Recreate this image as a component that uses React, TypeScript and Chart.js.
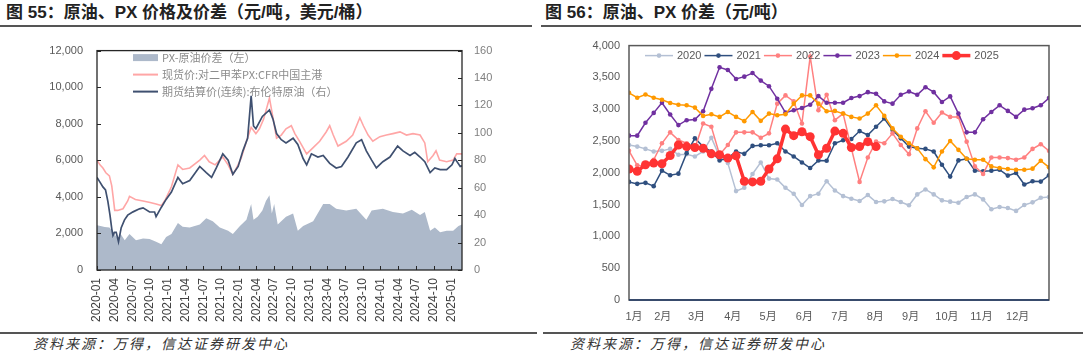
import React, { useEffect, useRef } from "react";
import { Chart, registerables } from "chart.js";
Chart.register(...registerables);

const FONT = '"Liberation Sans", "Noto Sans CJK SC", sans-serif';
const CJK = '"Noto Sans CJK SC", "Liberation Sans", sans-serif';

// ---------- Figure 55 data (x = months since 2020-01) ----------
const quarterLabels = [
  "2020-01", "2020-04", "2020-07", "2020-10", "2021-01", "2021-04", "2021-07",
  "2021-10", "2022-01", "2022-04", "2022-07", "2022-10", "2023-01", "2023-04",
  "2023-07", "2023-10", "2024-01", "2024-04", "2024-07", "2024-10", "2025-01",
];
const spreadT = [0, 0.6, 1.3, 2.1, 2.95, 3.5, 4.0, 4.7, 5.5, 6.6, 7.8, 8.9, 10, 10.9, 11.7, 12.6, 13.7, 14.5, 15.7, 17.4, 18.5, 19.6, 20.8, 22.2, 23, 24.2, 25.3, 26.1, 26.5, 27.2, 28, 28.6, 29.2, 29.6, 30, 30.6, 32, 33.2, 34, 34.9, 36.6, 38.3, 39.4, 40.5, 42.2, 43.9, 45.6, 46.5, 48.4, 50.1, 51.8, 53.3, 54.7, 55.5, 56.4, 57.2, 58.1, 59.2, 60.3, 61.2, 61.8];
const spreadV = [2450, 2400, 2350, 2320, 1975, 1720, 1975, 1630, 1975, 1630, 1720, 1700, 1545, 1410, 1800, 1975, 2575, 2370, 2320, 2490, 2830, 2660, 2320, 2145, 1975, 2400, 2745, 3605, 2750, 2915, 3260, 3775, 4085, 3090, 3605, 2490, 2915, 3090, 2145, 2400, 2660, 3605, 3605, 3350, 3260, 3350, 2745, 3260, 3350, 3175, 3090, 3295, 3005, 3175, 2145, 2320, 2060, 2145, 2145, 2400, 2490];
const pxT = [0, 0.5, 1.0, 1.5, 2.1, 2.5, 2.75, 3.0, 3.5, 4.4, 5.2, 5.5, 6.5, 7.8, 9, 10, 10.9, 11.6, 12.6, 13.7, 14.5, 15.7, 17.4, 18.2, 19, 20, 21.3, 22.2, 23, 23.5, 24.4, 25.3, 26.1, 26.9, 27.5, 28.2, 29.2, 29.8, 30.4, 31.2, 32, 32.9, 33.5, 34.3, 35.5, 36.6, 37.7, 38.8, 39.4, 40, 40.8, 42.2, 43.3, 44.5, 45.1, 45.9, 46.7, 47.9, 49, 50.1, 51.3, 52.4, 53.5, 54.7, 55.5, 56, 56.9, 57.4, 58, 59.2, 60.3, 60.9, 61.8];
const pxV = [6010, 5750, 5580, 5320, 5150, 4600, 3950, 3260, 3260, 3350, 3775, 4030, 3860, 3775, 3690, 3605, 3520, 3860, 4550, 5750, 5500, 5580, 6010, 6265, 5920, 5750, 6180, 5750, 5235, 5500, 6095, 7040, 7800, 7460, 7720, 8240, 9400, 8325, 7210, 7380, 7720, 7890, 7460, 7040, 6350, 6695, 7040, 7550, 7890, 7380, 6780, 7040, 7380, 8325, 7890, 7380, 7040, 7295, 7380, 7460, 7555, 7380, 7460, 7380, 6950, 5920, 6265, 6520, 6010, 5920, 6010, 6350, 6350];
const brentT = [0, 0.5, 1.0, 1.44, 1.84, 2.2, 2.5, 2.7, 2.95, 3.25, 3.64, 4.1, 4.66, 5.2, 6.1, 7.2, 7.8, 8.9, 9.75, 10.0, 10.9, 11.7, 12.6, 13.7, 14.5, 15.7, 17.4, 18.5, 19.4, 20.2, 21.3, 22.2, 23, 23.9, 24.7, 25.5, 26.1, 26.5, 26.9, 28, 29.2, 29.8, 30.4, 31.2, 32, 33.2, 34, 34.9, 35.5, 36.3, 37.4, 38.3, 39.4, 40.5, 41.4, 42.5, 43.9, 44.8, 45.6, 46.5, 47.3, 48.4, 49.6, 50.9, 51.8, 53, 53.8, 54.7, 55.5, 56.4, 57.2, 58.1, 59.2, 60.1, 60.6, 61.5, 61.8];
const brentV = [67.5, 64.1, 60.6, 58.4, 50, 40, 30, 25.2, 27.5, 27.5, 20.6, 30.9, 36.6, 40.0, 42.4, 44.6, 45.3, 42.3, 42.3, 38.9, 45.8, 51.5, 56.8, 67.5, 62.9, 65.2, 75.5, 71, 67.5, 74.4, 84.7, 80.1, 69.8, 75.5, 86.9, 96, 127, 105, 103, 112, 116.7, 110, 99.5, 95, 92.7, 96.1, 91.6, 81.3, 76.7, 84.7, 82.4, 83.5, 77.8, 74.4, 75.5, 82.4, 92.7, 95, 86.9, 80.1, 74.4, 79, 82.4, 90.4, 86.9, 83.5, 85.8, 82.4, 79, 71, 74.4, 73.2, 73.2, 76.7, 81.3, 75.5, 76];

// ---------- Figure 56 data (weekly, x = week index) ----------
const monthLabels = ["1月", "2月", "3月", "4月", "5月", "6月", "7月", "8月", "9月", "10月", "11月", "12月"];
const monthTickWeeks = [0.6, 4.1, 8.2, 12.6, 16.9, 21.3, 25.6, 29.9, 34.2, 38.6, 42.8, 47.2];
const yearLabels = ["2020", "2021", "2022", "2023", "2024", "2025"];
const s2020 = [2438, 2412, 2376, 2335, 2345, 2376, 2283, 2293, 2257, 2335, 2552, 2257, 2153, 1712, 1764, 1982, 2163, 1909, 1894, 1764, 1671, 1494, 1634, 1671, 1868, 1722, 1634, 1593, 1556, 1650, 1541, 1551, 1588, 1541, 1489, 1660, 1738, 1660, 1567, 1546, 1530, 1619, 1660, 1582, 1427, 1463, 1447, 1401, 1494, 1535, 1608, 1619];
const s2021 = [1857, 1826, 1842, 1790, 2034, 1961, 1987, 2309, 2542, 2412, 2335, 2195, 2231, 2335, 2298, 2423, 2433, 2433, 2464, 2335, 2257, 2163, 2075, 2195, 2189, 2464, 2511, 2532, 2656, 2594, 2724, 2853, 2672, 2542, 2412, 2386, 2376, 2335, 2127, 1940, 2195, 2220, 2034, 2023, 2034, 2049, 1956, 1997, 1816, 1868, 1862, 1961];
const s2022 = [2345, 2117, 2101, 2205, 2464, 2636, 2516, 2464, 2386, 2776, 2724, 2283, 2438, 2636, 2636, 2636, 2552, 2620, 3087, 3217, 3123, 2776, 3829, 2983, 3227, 2827, 2931, 2386, 1857, 2241, 2490, 2464, 2620, 2438, 2293, 2698, 2968, 2786, 2947, 2879, 2879, 2490, 2101, 1982, 2241, 2241, 2231, 2205, 2241, 2376, 2449, 2345];
const s2023 = [2584, 2584, 2786, 2942, 3102, 2916, 2750, 2827, 2838, 2968, 3320, 3658, 3616, 3476, 3512, 3569, 3450, 3362, 3165, 2947, 2983, 3019, 3071, 3206, 3102, 3102, 3102, 3175, 3206, 3268, 3243, 3123, 3087, 3227, 3279, 3227, 3346, 3268, 3113, 3201, 2931, 2636, 2636, 2843, 2957, 3061, 2973, 2879, 2993, 3014, 3061, 3175];
const s2024 = [3258, 3180, 3232, 3180, 3149, 3097, 3071, 3061, 3025, 2895, 2921, 2879, 2957, 2879, 2812, 2957, 2817, 2931, 2905, 2921, 3087, 3217, 3217, 3087, 2968, 2973, 2931, 2879, 2853, 2931, 3061, 2895, 2698, 2568, 2464, 2386, 2215, 2086, 2335, 2501, 2361, 2220, 2205, 2205, 2101, 2075, 2060, 2049, 2049, 2065, 2189, 2086];
const s2025 = [2060, 2023, 2127, 2153, 2143, 2272, 2438, 2412, 2397, 2386, 2298, 2283, 2231, 2267, 1868, 1857, 1868, 2060, 2220, 2687, 2584, 2646, 2568, 2283, 2386, 2656, 2620, 2397, 2412, 2490, 2412];
const yearColors = ["#b4c0d4", "#2f4f7f", "#ff8080", "#7030a0", "#ff9900", "#ff3333"];

const comma = (v: any) => Number(v).toLocaleString("en-US");

const framePlugin = {
  id: "frame",
  afterDatasetsDraw(chart: any, _a: any, opts: any) {
    if (!opts || !opts.color) return;
    const { ctx, chartArea: ca } = chart;
    ctx.save();
    ctx.strokeStyle = opts.color;
    ctx.lineWidth = opts.width;
    ctx.strokeRect(ca.left, ca.top, ca.right - ca.left, ca.bottom - ca.top);
    if (opts.bottomColor) {
      ctx.strokeStyle = opts.bottomColor;
      ctx.beginPath();
      ctx.moveTo(ca.left, ca.bottom);
      ctx.lineTo(ca.right, ca.bottom);
      ctx.stroke();
    }
    if (opts.ticks) {
      ctx.strokeStyle = opts.color;
      ctx.lineWidth = 1;
      const L = 4;
      const sx = chart.scales.x;
      sx.ticks.forEach((t: any) => {
        const p = Math.round(sx.getPixelForValue(t.value)) + 0.5;
        ctx.beginPath(); ctx.moveTo(p, ca.bottom); ctx.lineTo(p, ca.bottom - L); ctx.stroke();
      });
      const sy = chart.scales.y;
      sy.ticks.forEach((t: any) => {
        const p = Math.round(sy.getPixelForValue(t.value)) + 0.5;
        ctx.beginPath(); ctx.moveTo(ca.left, p); ctx.lineTo(ca.left + L, p); ctx.stroke();
      });
      const sy1 = chart.scales.y1;
      if (sy1) sy1.ticks.forEach((t: any) => {
        const p = Math.round(sy1.getPixelForValue(t.value)) + 0.5;
        ctx.beginPath(); ctx.moveTo(ca.right, p); ctx.lineTo(ca.right - L, p); ctx.stroke();
      });
    }
    ctx.restore();
  },
};

const legendPlugin = {
  id: "customLegend",
  afterDraw(chart: any, _a: any, opts: any) {
    if (!opts || !opts.mode) return;
    const { ctx, chartArea: ca } = chart;
    const dss = chart.data.datasets;
    ctx.save();
    ctx.font = `${opts.fontSize}px ${opts.family}`;
    ctx.textBaseline = "middle";
    ctx.textAlign = "left";
    if (opts.mode === "vertical") {
      opts.order.forEach((di: number, row: number) => {
        const ds = dss[di];
        const x = ca.left + opts.dx;
        const y = ca.top + opts.dy + row * opts.rowH;
        if (ds.fill) {
          ctx.fillStyle = ds.backgroundColor;
          ctx.fillRect(x, y - 3.5, opts.sample, 7);
        } else {
          ctx.strokeStyle = ds.borderColor;
          ctx.lineWidth = 2;
          ctx.beginPath(); ctx.moveTo(x, y); ctx.lineTo(x + opts.sample, y); ctx.stroke();
        }
        ctx.fillStyle = opts.color;
        ctx.fillText(ds.label, x + opts.sample + 4, y);
      });
    } else {
      let x = ca.left + opts.dx;
      const y = ca.top + opts.dy;
      dss.forEach((ds: any) => {
        ctx.strokeStyle = ds.borderColor;
        ctx.lineWidth = ds.borderWidth;
        ctx.beginPath(); ctx.moveTo(x, y); ctx.lineTo(x + opts.sample, y); ctx.stroke();
        ctx.fillStyle = ds.borderColor;
        ctx.beginPath(); ctx.arc(x + opts.sample / 2, y, ds.pointRadius, 0, Math.PI * 2); ctx.fill();
        ctx.fillStyle = opts.color;
        const tx = x + opts.sample + 4;
        ctx.fillText(ds.label, tx, y);
        x = tx + ctx.measureText(ds.label).width + 3;
      });
    }
    ctx.restore();
  },
};

Chart.register(framePlugin, legendPlugin);

function LeftChart() {
  const ref = useRef<HTMLCanvasElement>(null);
  useEffect(() => {
    const chart = new Chart(ref.current as HTMLCanvasElement, {
      type: "line",
      data: {
        datasets: [
          {
            label: "期货结算价(连续):布伦特原油（右）",
            data: brentT.map((t, i) => ({ x: t, y: brentV[i] })),
            yAxisID: "y1", borderColor: "#3f5070", borderWidth: 1.7,
            pointRadius: 0, order: 0, fill: false,
          },
          {
            label: "现货价:对二甲苯PX:CFR中国主港",
            data: pxT.map((t, i) => ({ x: t, y: pxV[i] })),
            yAxisID: "y", borderColor: "#ffa6a6", borderWidth: 1.6,
            pointRadius: 0, order: 1, fill: false,
          },
          {
            label: "PX-原油价差（左）",
            data: spreadT.map((t, i) => ({ x: t, y: spreadV[i] })),
            yAxisID: "y", borderColor: "#adb9ca", backgroundColor: "#adb9ca",
            borderWidth: 0, pointRadius: 0, order: 2, fill: "origin",
          },
        ],
      } as any,
      options: {
        animation: false,
        responsive: false,
        maintainAspectRatio: false,
        layout: { padding: { top: 7, left: 0, right: 0, bottom: 0 } },
        plugins: {
          legend: { display: false },
          tooltip: { enabled: false },
          frame: { color: "#262626", width: 1.3, ticks: true },
          customLegend: {
            mode: "vertical", order: [2, 1, 0], dx: 36, dy: 7, rowH: 17,
            sample: 25, fontSize: 11, family: CJK, color: "#8c8c8c",
          },
        } as any,
        scales: {
          x: {
            type: "linear", min: 0, max: 61.8,
            grid: { display: false, drawTicks: false }, border: { display: false },
            afterBuildTicks: (s: any) => { s.ticks = quarterLabels.map((_, i) => ({ value: i * 3 })); },
            afterFit: (s: any) => { s.height = 60; },
            ticks: {
              autoSkip: false, minRotation: 90, maxRotation: 90, padding: 8,
              color: "#404040", font: { size: 12, family: FONT },
              callback: (_v: any, i: number) => quarterLabels[i],
            },
          },
          y: {
            position: "left", min: 0, max: 12000,
            grid: { display: false, drawTicks: false }, border: { display: false },
            afterFit: (s: any) => { s.width = 57; },
            ticks: { stepSize: 2000, padding: 14, color: "#595959", font: { size: 11, family: FONT }, callback: comma },
          },
          y1: {
            position: "right", min: 0, max: 160,
            grid: { display: false, drawTicks: false }, border: { display: false },
            afterFit: (s: any) => { s.width = 38; },
            ticks: { stepSize: 20, padding: 12, color: "#7f7f7f", font: { size: 11, family: FONT } },
          },
        } as any,
      },
    });
    return () => chart.destroy();
  }, []);
  return (
    <canvas ref={ref} width={460} height={300}
      style={{ position: "absolute", left: 40, top: 30, width: 460, height: 300 }} />
  );
}

function RightChart() {
  const ref = useRef<HTMLCanvasElement>(null);
  useEffect(() => {
    const series = [s2020, s2021, s2022, s2023, s2024, s2025];
    const chart = new Chart(ref.current as HTMLCanvasElement, {
      type: "line",
      data: {
        datasets: series.map((arr, k) => {
          const big = k === 5;
          return {
            label: yearLabels[k],
            data: arr.map((v, i) => ({ x: i, y: v })),
            borderColor: yearColors[k],
            backgroundColor: yearColors[k],
            pointBackgroundColor: yearColors[k],
            pointBorderWidth: 0,
            borderWidth: big ? 3.5 : 1.5,
            pointRadius: big ? 4.5 : 2.3,
            order: 5 - k,
            fill: false,
          };
        }),
      } as any,
      options: {
        animation: false,
        responsive: false,
        maintainAspectRatio: false,
        layout: { padding: { top: 13, right: 39, left: 0, bottom: 0 } },
        plugins: {
          legend: { display: false },
          tooltip: { enabled: false },
          frame: { color: "#595959", width: 1.5, bottomColor: "#1f3864" },
          customLegend: {
            mode: "horizontal", dx: 16, dy: 10, sample: 28,
            fontSize: 11, family: FONT, color: "#595959",
          },
        } as any,
        scales: {
          x: {
            type: "linear", min: 0, max: 51,
            grid: { display: false, drawTicks: false }, border: { display: false },
            afterBuildTicks: (s: any) => { s.ticks = monthTickWeeks.map((v) => ({ value: v })); },
            afterFit: (s: any) => { s.height = 30; },
            ticks: {
              autoSkip: false, minRotation: 0, maxRotation: 0, padding: 10,
              color: "#595959", font: { size: 11, family: FONT },
              callback: (_v: any, i: number) => monthLabels[i],
            },
          },
          y: {
            min: 0, max: 4000,
            grid: { display: false, drawTicks: false }, border: { display: false },
            afterFit: (s: any) => { s.width = 49; },
            ticks: { stepSize: 500, padding: 9, color: "#595959", font: { size: 11, family: FONT }, callback: comma },
          },
        } as any,
      },
    });
    return () => chart.destroy();
  }, []);
  return (
    <canvas ref={ref} width={508} height={300}
      style={{ position: "absolute", left: 580, top: 30, width: 508, height: 300 }} />
  );
}

const titleStyle: React.CSSProperties = {
  position: "absolute", top: 3, whiteSpace: "nowrap",
  font: `bold 17px ${FONT}`, color: "#222", lineHeight: "20px",
};
const sourceStyle: React.CSSProperties = {
  position: "absolute", top: 334, whiteSpace: "nowrap",
  font: `italic 14px ${CJK}`, color: "#333", lineHeight: "18px", letterSpacing: "2px",
};
const ruleStyle = (left: number, top: number, width: number): React.CSSProperties => ({
  position: "absolute", left, top, width, height: 1.5, background: "#555",
});

export default function App() {
  return (
    <div style={{ position: "absolute", left: 0, top: 0, width: 1088, height: 358, background: "#fff", overflow: "hidden" }}>
      <div style={{ ...titleStyle, left: 6 }}>图 55：原油、PX 价格及价差（元/吨，美元/桶）</div>
      <div style={{ ...titleStyle, left: 545 }}>图 56：原油、PX 价差（元/吨）</div>
      <div style={ruleStyle(0, 25, 532)} />
      <div style={ruleStyle(541, 25, 540)} />
      <LeftChart />
      <RightChart />
      <div style={ruleStyle(0, 332, 537)} />
      <div style={ruleStyle(543, 332, 540)} />
      <div style={{ ...sourceStyle, left: 33 }}>资料来源：万得，信达证券研发中心</div>
      <div style={{ ...sourceStyle, left: 570 }}>资料来源：万得，信达证券研发中心</div>
    </div>
  );
}
